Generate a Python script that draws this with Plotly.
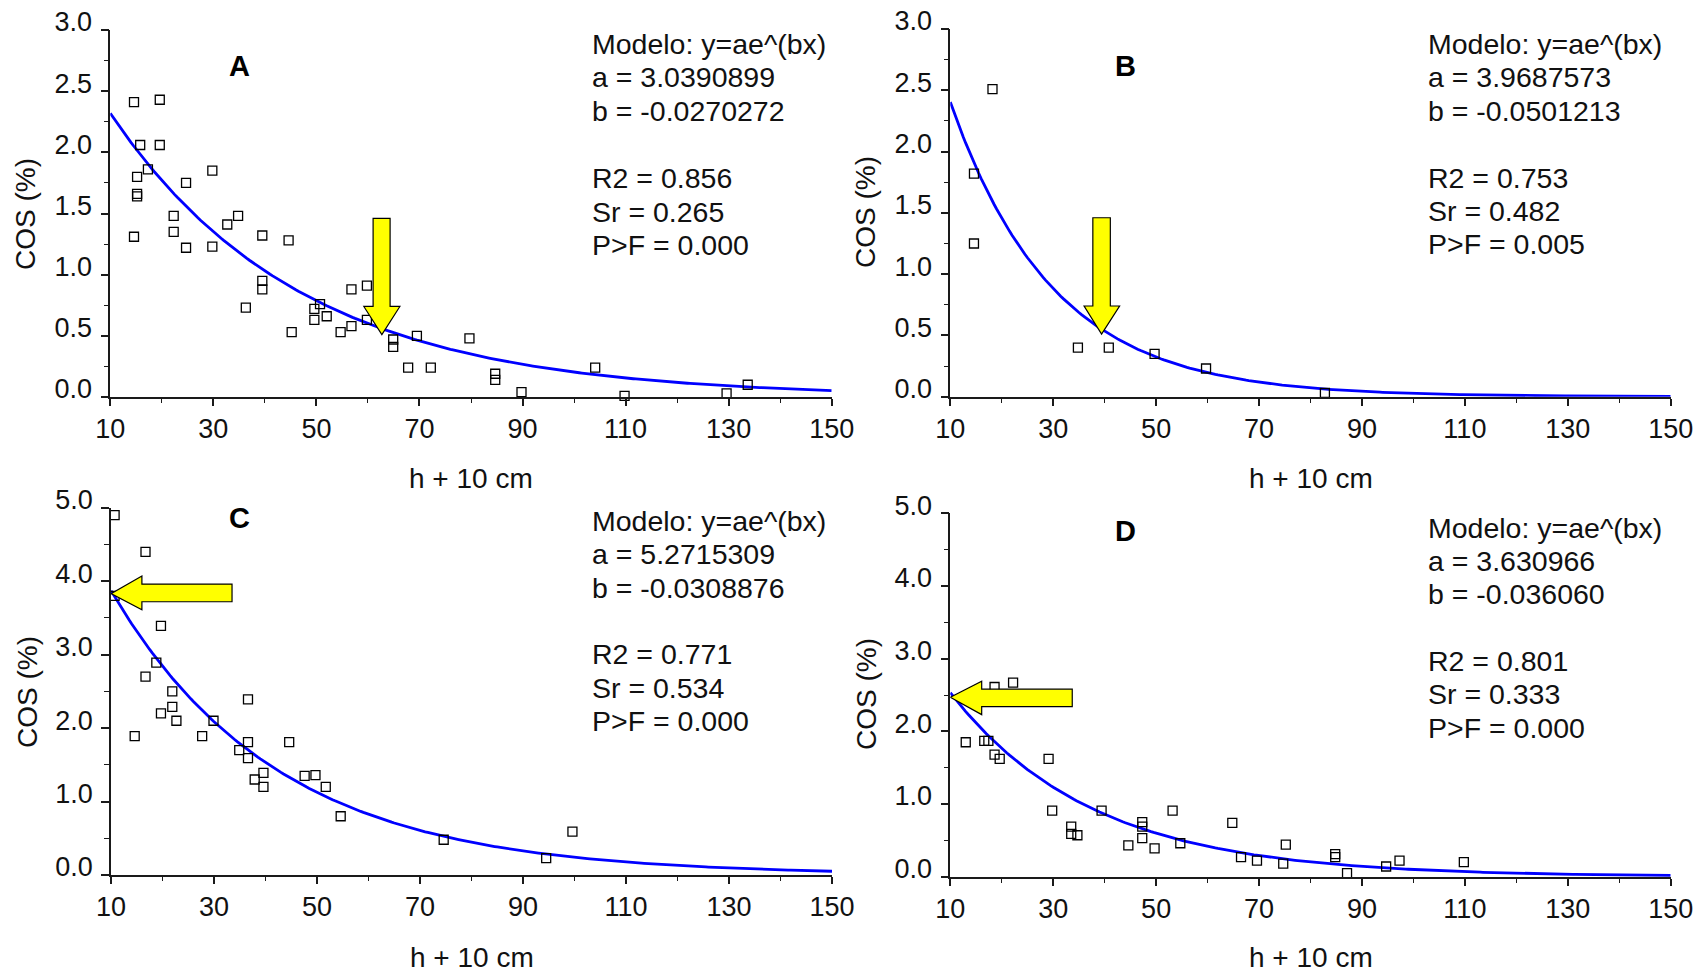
import numpy as np
import plotly.graph_objects as go

W, H = 1705, 971

# ---------------- data ----------------
A_x = [14.6, 19.6, 15.8, 19.6, 17.3, 15.2, 15.2, 15.2, 14.6, 22.3, 22.3, 24.7, 24.7, 29.8, 29.8,
       32.7, 34.8, 39.5, 39.5, 39.5, 36.3, 44.6, 45.2, 49.6, 49.6, 50.7, 52.0, 54.7, 56.8, 56.8,
       59.8, 59.8, 64.9, 64.9, 69.5, 67.8, 72.2, 79.7, 84.7, 84.7, 89.8, 104.1, 109.8, 129.6, 133.7]
A_y = [2.41, 2.43, 2.06, 2.06, 1.86, 1.80, 1.66, 1.64, 1.31, 1.48, 1.35, 1.75, 1.22, 1.85, 1.23,
       1.41, 1.48, 1.32, 0.95, 0.88, 0.73, 1.28, 0.53, 0.72, 0.63, 0.76, 0.66, 0.53, 0.88, 0.58,
       0.91, 0.63, 0.47, 0.41, 0.50, 0.24, 0.24, 0.48, 0.19, 0.14, 0.04, 0.24, 0.01, 0.03, 0.10]

B_x = [18.2, 14.6, 14.6, 34.8, 40.8, 49.7, 59.7, 82.8]
B_y = [2.51, 1.82, 1.25, 0.40, 0.40, 0.35, 0.23, 0.03]

C_x = [10.7, 16.7, 10.7, 19.7, 18.8, 16.7, 21.9, 21.9, 19.7, 22.7, 14.6, 27.7, 29.9, 36.6,
       36.6, 34.9, 36.6, 37.9, 39.6, 39.6, 44.6, 47.6, 49.7, 51.7, 54.6, 74.6, 94.5, 99.6]
C_y = [4.90, 4.40, 3.80, 3.39, 2.89, 2.70, 2.50, 2.29, 2.20, 2.10, 1.89, 1.89, 2.10, 2.39,
       1.81, 1.70, 1.59, 1.30, 1.39, 1.20, 1.81, 1.35, 1.36, 1.20, 0.80, 0.48, 0.23, 0.59]

D_x = [13.0, 16.6, 17.4, 18.6, 22.2, 18.6, 19.6, 29.1, 29.8, 33.5, 33.5, 34.7, 39.4, 44.6, 47.3,
       47.3, 47.3, 49.7, 53.2, 54.7, 64.8, 66.5, 69.6, 74.7, 75.2, 84.8, 84.8, 87.1, 94.7, 97.3, 109.8]
D_y = [1.85, 1.87, 1.87, 2.61, 2.67, 1.68, 1.62, 1.62, 0.91, 0.69, 0.59, 0.57, 0.91, 0.43, 0.75,
       0.69, 0.53, 0.39, 0.91, 0.46, 0.74, 0.27, 0.22, 0.18, 0.44, 0.31, 0.27, 0.05, 0.14, 0.22, 0.20]

# fitted model parameters (as printed on the chart)
A_a, A_b = 3.0390899, -0.0270272
B_a, B_b = 3.9687573, -0.0501213
C_a, C_b = 5.2715309, -0.0308876
D_a, D_b = 3.630966, -0.036060

A_text = ["Modelo: y=ae^(bx)", "a = 3.0390899", "b = -0.0270272", "R2 = 0.856", "Sr = 0.265", "P>F = 0.000"]
B_text = ["Modelo: y=ae^(bx)", "a = 3.9687573", "b = -0.0501213", "R2 = 0.753", "Sr = 0.482", "P>F = 0.005"]
C_text = ["Modelo: y=ae^(bx)", "a = 5.2715309", "b = -0.0308876", "R2 = 0.771", "Sr = 0.534", "P>F = 0.000"]
D_text = ["Modelo: y=ae^(bx)", "a = 3.630966", "b = -0.036060", "R2 = 0.801", "Sr = 0.333", "P>F = 0.000"]

x_tickvals = [10, 30, 50, 70, 90, 110, 130, 150]

# ---------------- layout helpers ----------------
def px(x):
    return x / W

def py(y):
    return 1 - y / H

FONT = "Liberation Sans, Arial, sans-serif"
AX_COLOR = "#1a1a1a"

panels = [
    dict(name="A", x=A_x, y=A_y, a=A_a, b=A_b, text=A_text, ymax=3.0, dt=0.5, mdt=0.25,
         xdom=(110.3, 831.7), ydom=(397.0, 30.0), text_x=589.5,
         text_y=[44, 77, 110.8, 178, 211.5, 245], letter=(239, 66),
         ytitle=(26, 214), xtitle=(471, 478.5),
         arrow="down", arr=dict(cx=62.7, sl=61.0, sr=64.3, top=1.46, hb=0.74, hl=59.2, hr=66.2, tip=0.51)),
    dict(name="B", x=B_x, y=B_y, a=B_a, b=B_b, text=B_text, ymax=3.0, dt=0.5, mdt=0.25,
         xdom=(950.3, 1670.7), ydom=(396.7, 29.0), text_x=1426,
         text_y=[44, 77, 110.5, 177.5, 211, 244.5], letter=(1125.5, 66),
         ytitle=(866, 212), xtitle=(1310.5, 478.5),
         arrow="down", arr=dict(cx=39.4, sl=37.7, sr=41.1, top=1.46, hb=0.74, hl=36.0, hr=42.9, tip=0.51)),
    dict(name="C", x=C_x, y=C_y, a=C_a, b=C_b, text=C_text, ymax=5.0, dt=1.0, mdt=0.5,
         xdom=(111.0, 832.0), ydom=(875.0, 507.7), text_x=589.5,
         text_y=[521, 554, 587.5, 654, 687.5, 721], letter=(239, 518),
         ytitle=(27, 692), xtitle=(471.5, 957),
         arrow="left", arr=dict(tip=10, ty=3.83, hb=16.0, ht=4.07, hbot=3.61, sr=33.5, st=3.96, sb=3.72)),
    dict(name="D", x=D_x, y=D_y, a=D_a, b=D_b, text=D_text, ymax=5.0, dt=1.0, mdt=0.5,
         xdom=(950.3, 1670.7), ydom=(876.7, 513.3), text_x=1426,
         text_y=[528, 560.5, 593.5, 660.5, 694, 727.5], letter=(1125.5, 530.5),
         ytitle=(866, 694), xtitle=(1310.5, 957.5),
         arrow="left", arr=dict(tip=10, ty=2.47, hb=16.1, ht=2.69, hbot=2.23, sr=33.7, st=2.58, sb=2.34)),
]

fig = go.Figure()
annotations = []
shapes = []

for i, p in enumerate(panels):
    n = "" if i == 0 else str(i + 1)
    xa, ya = "x" + n, "y" + n
    # fitted curve
    xc = np.linspace(10, 150, 281)
    yc = p["a"] * np.exp(p["b"] * xc)
    fig.add_trace(go.Scatter(x=xc, y=yc, mode="lines", line=dict(color="#0000ff", width=2.8),
                             xaxis=xa, yaxis=ya, showlegend=False, hoverinfo="skip"))
    # observed points
    fig.add_trace(go.Scatter(x=p["x"], y=p["y"], mode="markers",
                             marker=dict(symbol="square-open", size=9, color="#000000",
                                         line=dict(width=1.3, color="#000000")),
                             xaxis=xa, yaxis=ya, showlegend=False, cliponaxis=False))

    x0, x1 = p["xdom"]
    yb, yt = p["ydom"]
    common = dict(showgrid=False, zeroline=False, showline=True, linecolor=AX_COLOR, linewidth=1.6,
                  ticks="outside", tickcolor=AX_COLOR, tickwidth=1.6, automargin=False,
                  tickfont=dict(family=FONT, size=27, color="#111111"))
    fig.layout["xaxis" + n] = dict(
        domain=[px(x0), px(x1)], range=[10, 150], anchor=ya,
        tickvals=x_tickvals, ticklen=7, ticklabelstandoff=0,
        minor=dict(dtick=10, tick0=10, ticks="outside", ticklen=4, tickcolor=AX_COLOR, tickwidth=1.4, showgrid=False),
        **common)
    fig.layout["yaxis" + n] = dict(
        domain=[py(yb), py(yt)], range=[0, p["ymax"]], anchor=xa,
        tick0=0, dtick=p["dt"], tickformat=".1f", ticklen=8, ticklabelstandoff=3, ticklabelshift=-8,
        minor=dict(dtick=p["mdt"], tick0=0, ticks="outside", ticklen=5, tickcolor=AX_COLOR, tickwidth=1.4, showgrid=False),
        **common)

    # model text
    for line, ty in zip(p["text"], p["text_y"]):
        annotations.append(dict(x=px(p["text_x"]), y=py(ty), xref="paper", yref="paper",
                                text=line, showarrow=False, xanchor="left", yanchor="middle",
                                font=dict(family=FONT, size=28.5, color="#111111")))
    # panel letter
    annotations.append(dict(x=px(p["letter"][0]), y=py(p["letter"][1]), xref="paper", yref="paper",
                            text="<b>%s</b>" % p["name"], showarrow=False, xanchor="center", yanchor="middle",
                            font=dict(family=FONT, size=29, color="#000000")))
    # axis titles
    annotations.append(dict(x=px(p["ytitle"][0]), y=py(p["ytitle"][1]), xref="paper", yref="paper",
                            text="COS (%)", textangle=-90, showarrow=False, xanchor="center", yanchor="middle",
                            font=dict(family=FONT, size=28, color="#111111")))
    annotations.append(dict(x=px(p["xtitle"][0]), y=py(p["xtitle"][1]), xref="paper", yref="paper",
                            text="h + 10 cm", showarrow=False, xanchor="center", yanchor="middle",
                            font=dict(family=FONT, size=28, color="#111111")))

    # yellow block arrow
    r = p["arr"]
    if p["arrow"] == "down":
        path = (f"M {r['sl']},{r['top']} L {r['sr']},{r['top']} L {r['sr']},{r['hb']} L {r['hr']},{r['hb']} "
                f"L {r['cx']},{r['tip']} L {r['hl']},{r['hb']} L {r['sl']},{r['hb']} Z")
    else:
        path = (f"M {r['tip']},{r['ty']} L {r['hb']},{r['ht']} L {r['hb']},{r['st']} L {r['sr']},{r['st']} "
                f"L {r['sr']},{r['sb']} L {r['hb']},{r['sb']} L {r['hb']},{r['hbot']} Z")
    shapes.append(dict(type="path", path=path, xref=xa, yref=ya, fillcolor="#ffff00",
                       line=dict(color="#000000", width=1.2), layer="above"))

fig.update_layout(template="none", width=W, height=H, autosize=False,
                  margin=dict(l=0, r=0, t=0, b=0, autoexpand=False),
                  paper_bgcolor="white", plot_bgcolor="white", showlegend=False,
                  annotations=annotations, shapes=shapes,
                  font=dict(family=FONT, color="#111111"))

post = ("document.documentElement.style.margin='0';document.documentElement.style.padding='0';"
        "document.body.style.margin='0';document.body.style.padding='0';document.body.style.overflow='hidden';"
        "var gd=document.getElementById('{plot_id}');gd.style.position='absolute';gd.style.left='0px';gd.style.top='0px';")

fig.write_html("out.html", post_script=post, config={"displayModeBar": False})
